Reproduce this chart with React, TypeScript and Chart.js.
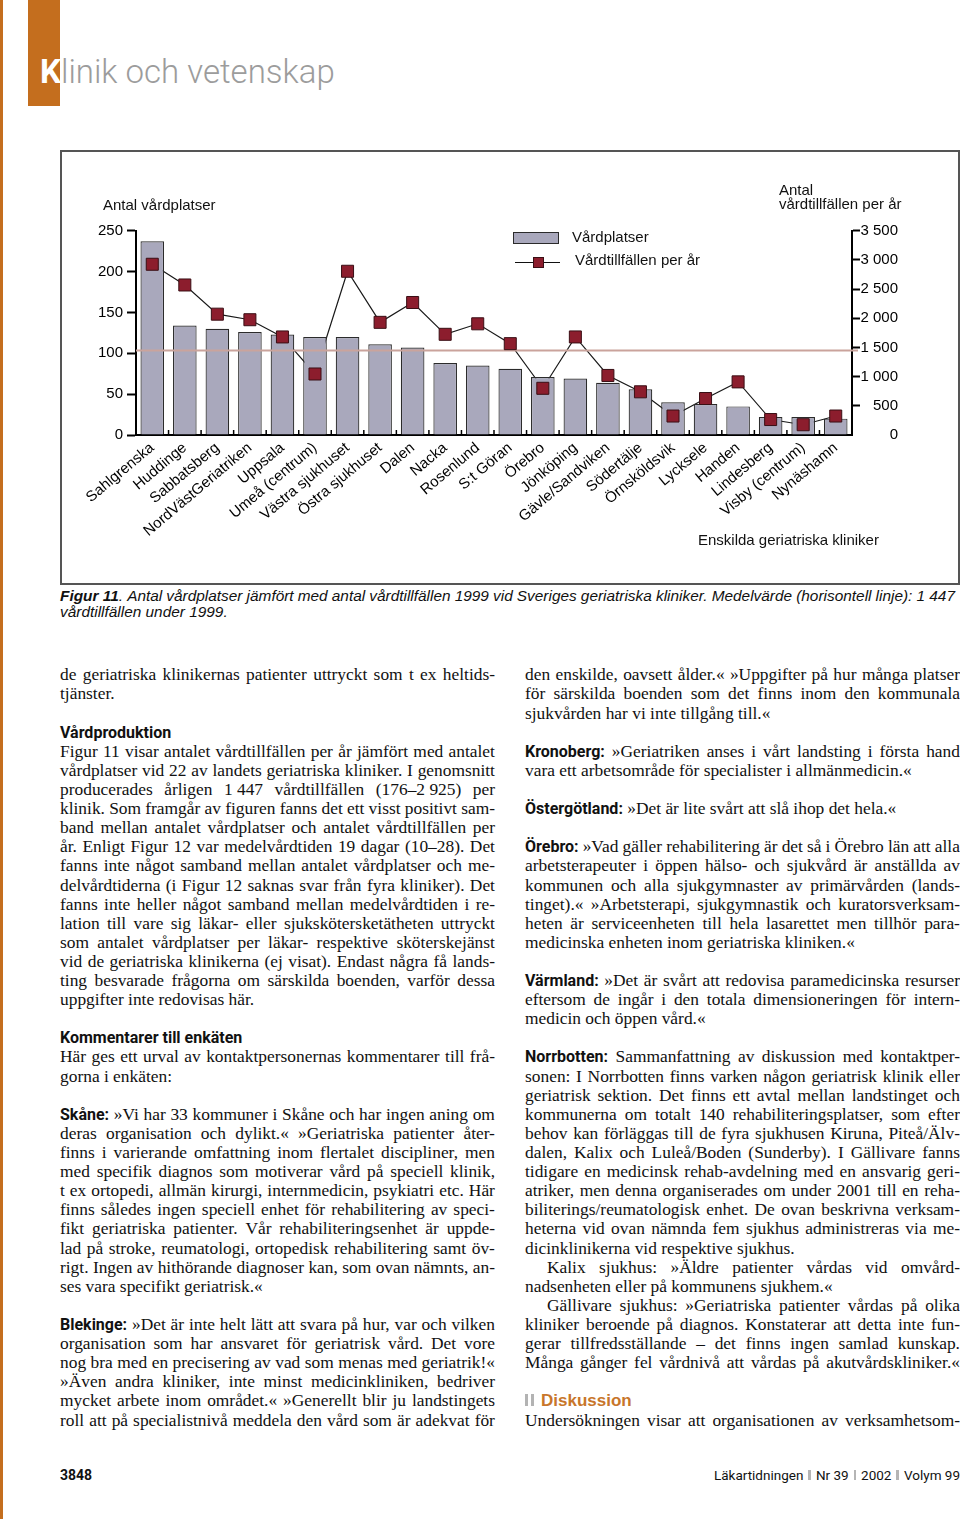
import React, { useEffect, useRef } from 'react';
import { Chart, registerables } from 'chart.js';

Chart.register(...registerables);

// ---------- chart data ----------
const clinics = [
  'Sahlgrenska', 'Huddinge', 'Sabbatsberg', 'NordVästGeriatriken', 'Uppsala',
  'Umeå (centrum)', 'Västra sjukhuset', 'Östra sjukhuset', 'Dalen', 'Nacka',
  'Rosenlund', 'S:t Göran', 'Örebro', 'Jönköping', 'Gävle/Sandviken',
  'Södertälje', 'Örnsköldsvik', 'Lycksele', 'Handen', 'Lindesberg',
  'Visby (centrum)', 'Nynäshamn',
];
const bedCounts = [237, 134, 130, 126, 123, 120, 120, 111, 107, 88, 85, 81, 71, 69, 64, 56, 40, 38, 35, 22, 22, 20];
const visitsPerYear = [2925, 2570, 2070, 1975, 1680, 1045, 2805, 1930, 2270, 1725, 1905, 1565, 800, 1680, 1020, 740, 325, 625, 910, 265, 176, 325];
const meanVisits = 1447;
const bedAxisMax = 250;
const bedAxisStep = 50;
const visitAxisMax = 3500;
const visitAxisStep = 500;

const SANS = "'Liberation Sans', Arial, sans-serif";
const NARROW = "Roboto, 'Liberation Sans', sans-serif";
const SERIF = "'Liberation Serif', 'Times New Roman', serif";

const BAR_FILL = '#a9a8bc';
const BAR_EDGE = '#2b2b2b';
const MARK_FILL = '#8c1d2d';
const MARK_EDGE = '#3a0f15';
const MEAN_COLOR = '#caa39c';
const ORANGE = '#c46e1e';

const fmtThousands = (v: number) =>
  v >= 1000 ? `${Math.floor(v / 1000)} ${String(v % 1000).padStart(3, '0')}` : String(v);

const overlayPlugin = {
  id: 'overlayPlugin',
  afterDatasetDraw(chart: any, args: any) {
    if (args.index !== 1) return;
    const { ctx, chartArea, scales } = chart;
    const y = scales.y1.getPixelForValue(meanVisits);
    ctx.save();
    ctx.strokeStyle = MEAN_COLOR;
    ctx.lineWidth = 2;
    ctx.beginPath();
    ctx.moveTo(chartArea.left, y);
    ctx.lineTo(chartArea.right + 6, y);
    ctx.stroke();
    ctx.restore();
  },
  afterDraw(chart: any) {
    const { ctx, chartArea, scales } = chart;
    const xs = scales.x;
    const n = clinics.length;
    const step = (xs.getPixelForValue(n - 1) - xs.getPixelForValue(0)) / (n - 1);
    ctx.save();
    ctx.strokeStyle = '#000';
    ctx.lineWidth = 1.5;
    for (let i = 1; i <= n; i++) {
      const px = xs.getPixelForValue(i - 1) + step / 2;
      ctx.beginPath();
      ctx.moveTo(px, chartArea.bottom);
      ctx.lineTo(px, chartArea.bottom - 5);
      ctx.stroke();
    }
    ctx.restore();
  },
};

function FigureChart() {
  const ref = useRef<HTMLCanvasElement | null>(null);
  useEffect(() => {
    if (!ref.current) return;
    const tickFont = { family: SANS, size: 15 };
    const chart = new Chart(ref.current, {
      type: 'bar',
      data: {
        labels: clinics,
        datasets: [
          {
            type: 'line',
            label: 'linje',
            data: visitsPerYear,
            yAxisID: 'y1',
            borderColor: '#1a1a1a',
            borderWidth: 1.2,
            pointRadius: 0,
            tension: 0,
            order: 3,
          } as any,
          {
            type: 'bar',
            label: 'Vårdplatser',
            data: bedCounts,
            yAxisID: 'y',
            backgroundColor: BAR_FILL,
            borderColor: BAR_EDGE,
            borderWidth: 1.2,
            barPercentage: 0.725,
            categoryPercentage: 1,
            order: 2,
          },
          {
            type: 'line',
            label: 'Vårdtillfällen per år',
            data: visitsPerYear,
            yAxisID: 'y1',
            showLine: false,
            pointStyle: 'rect',
            pointRadius: 8.5,
            pointBackgroundColor: MARK_FILL,
            pointBorderColor: MARK_EDGE,
            pointBorderWidth: 1,
            order: 1,
          } as any,
        ],
      },
      options: {
        animation: false,
        responsive: false,
        maintainAspectRatio: false,
        layout: { padding: { top: 80.7, left: 0, right: 60, bottom: 0 } },
        plugins: { legend: { display: false }, tooltip: { enabled: false } },
        scales: {
          x: {
            type: 'category',
            offset: true,
            grid: { display: false, drawTicks: false },
            border: { display: true, color: '#000', width: 2 },
            ticks: {
              autoSkip: false,
              minRotation: 40,
              maxRotation: 40,
              padding: 4,
              color: '#000',
              font: tickFont,
            },
            afterFit: (s: any) => { s.height = 149; },
          },
          y: {
            position: 'left',
            min: 0,
            max: bedAxisMax,
            ticks: { stepSize: bedAxisStep, padding: 4, color: '#000', font: tickFont },
            grid: { drawOnChartArea: false, tickLength: 9, tickWidth: 2, tickColor: '#000' },
            border: { display: true, color: '#000', width: 2 },
            afterFit: (s: any) => { s.width = 76; },
          },
          y1: {
            position: 'right',
            min: 0,
            max: visitAxisMax,
            ticks: {
              stepSize: visitAxisStep,
              padding: 6,
              crossAlign: 'far',
              color: '#000',
              font: tickFont,
              callback: (v: any) => fmtThousands(Number(v)),
            },
            grid: {
              drawOnChartArea: false,
              tickLength: 8,
              tickWidth: 2,
              tickColor: (c: any) => (c.tick && c.tick.value === 0 ? 'rgba(0,0,0,0)' : '#000'),
            },
            border: { display: true, color: '#000', width: 2 },
            afterFit: (s: any) => { s.width = 46; },
          },
        },
      } as any,
      plugins: [overlayPlugin],
    });
    return () => chart.destroy();
  }, []);
  return (
    <canvas
      ref={ref}
      width={898}
      height={434}
      style={{ position: 'absolute', left: 60, top: 150, width: 898, height: 434 }}
    />
  );
}

// ---------- page text ----------
const leftColumn = [
  'J de geriatriska klinikernas patienter uttryckt som t ex heltids-',
  'L tjänster.',
  '',
  'H Vårdproduktion',
  'J Figur 11 visar antalet vårdtillfällen per år jämfört med antalet',
  'J vårdplatser vid 22 av landets geriatriska kliniker. I genomsnitt',
  'J producerades årligen 1\u00a0447 vårdtillfällen (176–2\u00a0925) per',
  'J klinik. Som framgår av figuren fanns det ett visst positivt sam-',
  'J band mellan antalet vårdplatser och antalet vårdtillfällen per',
  'J år. Enligt Figur 12 var medelvårdtiden 19 dagar (10–28). Det',
  'J fanns inte något samband mellan antalet vårdplatser och me-',
  'J delvårdtiderna (i Figur 12 saknas svar från fyra kliniker). Det',
  'J fanns inte heller något samband mellan medelvårdtiden i re-',
  'J lation till vare sig läkar- eller sjukskötersketätheten uttryckt',
  'J som antalet vårdplatser per läkar- respektive sköterskejänst',
  'J vid de geriatriska klinikerna (ej visat). Endast några få lands-',
  'J ting besvarade frågorna om särskilda boenden, varför dessa',
  'L uppgifter inte redovisas här.',
  '',
  'H Kommentarer till enkäten',
  'J Här ges ett urval av kontaktpersonernas kommentarer till frå-',
  'L gorna i enkäten:',
  '',
  'J **Skåne:** »Vi har 33 kommuner i Skåne och har ingen aning om',
  'J deras organisation och dylikt.« »Geriatriska patienter åter-',
  'J finns i varierande omfattning inom flertalet discipliner, men',
  'J med specifik diagnos som motiverar vård på speciell klinik,',
  'J t ex ortopedi, allmän kirurgi, internmedicin, psykiatri etc. Här',
  'J finns således ingen speciell enhet för rehabilitering av speci-',
  'J fikt geriatriska patienter. Vår rehabiliteringsenhet är uppde-',
  'J lad på stroke, reumatologi, ortopedisk rehabilitering samt öv-',
  'J rigt. Ingen av hithörande diagnoser kan, som ovan nämnts, an-',
  'L ses vara specifikt geriatrisk.«',
  '',
  'J **Blekinge:** »Det är inte helt lätt att svara på hur, var och vilken',
  'J organisation som har ansvaret för geriatrisk vård. Det vore',
  'J nog bra med en precisering av vad som menas med geriatrik!«',
  'J »Även andra kliniker, inte minst medicinkliniken, bedriver',
  'J mycket arbete inom området.« »Generellt blir ju landstingets',
  'J roll att på specialistnivå meddela den vård som är adekvat för',
];

const rightColumn = [
  'J den enskilde, oavsett ålder.« »Uppgifter på hur många platser',
  'J för särskilda boenden som det finns inom den kommunala',
  'L sjukvården har vi inte tillgång till.«',
  '',
  'J **Kronoberg:** »Geriatriken anses i vårt landsting i första hand',
  'L vara ett arbetsområde för specialister i allmänmedicin.«',
  '',
  'L **Östergötland:** »Det är lite svårt att slå ihop det hela.«',
  '',
  'J **Örebro:** »Vad gäller rehabilitering är det så i Örebro län att alla',
  'J arbetsterapeuter i öppen hälso- och sjukvård är anställda av',
  'J kommunen och alla sjukgymnaster av primärvården (lands-',
  'J tinget).« »Arbetsterapi, sjukgymnastik och kuratorsverksam-',
  'J heten är serviceenheten till hela lasarettet men tillhör para-',
  'L medicinska enheten inom geriatriska kliniken.«',
  '',
  'J **Värmland:** »Det är svårt att redovisa paramedicinska resurser',
  'J eftersom de ingår i den totala dimensioneringen för intern-',
  'L medicin och öppen vård.«',
  '',
  'J **Norrbotten:** Sammanfattning av diskussion med kontaktper-',
  'J sonen: I Norrbotten finns varken någon geriatrisk klinik eller',
  'J geriatrisk sektion. Det finns ett avtal mellan landstinget och',
  'J kommunerna om totalt 140 rehabiliteringsplatser, som efter',
  'J behov kan förläggas till de fyra sjukhusen Kiruna, Piteå/Älv-',
  'J dalen, Kalix och Luleå/Boden (Sunderby). I Gällivare fanns',
  'J tidigare en medicinsk rehab-avdelning med en ansvarig geri-',
  'J atriker, men denna organiserades om under 2001 till en reha-',
  'J biliterings/reumatologisk enhet. De ovan beskrivna verksam-',
  'J heterna vid ovan nämnda fem sjukhus administreras via me-',
  'L dicinklinikerna vid respektive sjukhus.',
  'JI Kalix sjukhus: »Äldre patienter vårdas vid omvård-',
  'L nadsenheten eller på kommunens sjukhem.«',
  'JI Gällivare sjukhus: »Geriatriska patienter vårdas på olika',
  'J kliniker beroende på diagnos. Konstaterar att detta inte fun-',
  'J gerar tillfredsställande – det finns ingen samlad kunskap.',
  'J Många gånger fel vårdnivå att vårdas på akutvårdskliniker.«',
  '',
  'D Diskussion',
  'J Undersökningen visar att organisationen av verksamhetsom-',
];

const LH = 19.12;
const BODY_SIZE = 17.4;

function TextLine({ s }: { s: string }) {
  const base: React.CSSProperties = { height: LH, lineHeight: `${LH}px`, whiteSpace: 'nowrap' };
  if (!s) return <div style={base} />;
  const sp = s.indexOf(' ');
  const tag = s.slice(0, sp);
  const body = s.slice(sp + 1);
  if (tag === 'H') {
    return <div style={{ ...base, font: `bold 16px ${NARROW}`, color: '#111' }}>{body}</div>;
  }
  if (tag === 'D') {
    return (
      <div style={{ ...base, font: `bold 17px ${SANS}`, color: '#c8762a' }}>
        <span style={{ display: 'inline-block', width: 3, height: 12, background: '#b3b3b3', marginRight: 3 }} />
        <span style={{ display: 'inline-block', width: 3, height: 12, background: '#b3b3b3', marginRight: 7 }} />
        {body}
      </div>
    );
  }
  let lead: string | null = null;
  let rest = body;
  const m = body.match(/^\*\*(.+?)\*\* (.*)$/);
  if (m) { lead = m[1]; rest = m[2]; }
  const indent = tag.includes('I') ? 22 : 0;
  const leadEl = lead ? <span style={{ font: `bold 16px ${NARROW}` }}>{lead}</span> : null;
  if (tag.startsWith('J')) {
    return (
      <div style={{ ...base, display: 'flex', justifyContent: 'space-between', alignItems: 'baseline', paddingLeft: indent }}>
        {leadEl}
        {rest.split(' ').map((w, i) => <span key={i}>{w}</span>)}
      </div>
    );
  }
  return (
    <div style={{ ...base, paddingLeft: indent }}>
      {leadEl}{lead ? ' ' : ''}{rest}
    </div>
  );
}

function Column({ lines, left }: { lines: string[]; left: number }) {
  return (
    <div style={{ position: 'absolute', left, top: 665.3, width: 435, font: `${BODY_SIZE}px ${SERIF}`, color: '#111' }}>
      {lines.map((s, i) => <TextLine key={i} s={s} />)}
    </div>
  );
}

const label15: React.CSSProperties = {
  position: 'absolute', font: `15px ${SANS}`, lineHeight: '15px', color: '#111', whiteSpace: 'nowrap',
};

const captionWords = 'Antal vårdplatser jämfört med antal vårdtillfällen 1999 vid Sveriges geriatriska kliniker. Medelvärde (horisontell linje): 1\u00a0447'.split(' ');

const sep = <span style={{ display: 'inline-block', width: 2.5, height: 10, background: '#b5b5b5', margin: '0 5px' }} />;

export default function App() {
  useEffect(() => {
    document.body.style.margin = '0';
  }, []);
  return (
    <div style={{ position: 'absolute', left: 0, top: 0, width: 960, height: 1519, overflow: 'hidden', background: '#fff' }}>
      {/* page edge strip + header */}
      <div style={{ position: 'absolute', left: 0, top: 0, width: 3, height: 1519, background: ORANGE }} />
      <div style={{ position: 'absolute', left: 28, top: 0, width: 32, height: 106, background: ORANGE }} />
      <div style={{ position: 'absolute', left: 40, top: 54.5, font: `300 33px ${NARROW}`, lineHeight: '34px', letterSpacing: 0, color: '#9c9c9c', whiteSpace: 'nowrap' }}>
        <span style={{ color: '#fff', fontWeight: 'bold' }}>K</span>linik och vetenskap
      </div>

      {/* figure box */}
      <div style={{ position: 'absolute', left: 60, top: 150, width: 900, height: 435, boxSizing: 'border-box', border: '2px solid #555' }} />
      <FigureChart />
      <div style={{ ...label15, left: 103, top: 197.3 }}>Antal vårdplatser</div>
      <div style={{ ...label15, left: 779, top: 182.3 }}>Antal</div>
      <div style={{ ...label15, left: 779, top: 196.3 }}>vårdtillfällen per år</div>
      <div style={{ position: 'absolute', left: 513, top: 232, width: 46, height: 12, boxSizing: 'border-box', background: BAR_FILL, border: `1px solid ${BAR_EDGE}` }} />
      <div style={{ ...label15, left: 572, top: 229 }}>Vårdplatser</div>
      <div style={{ position: 'absolute', left: 515, top: 261.5, width: 45, height: 1, background: '#111' }} />
      <div style={{ position: 'absolute', left: 533, top: 257, width: 11, height: 11, boxSizing: 'border-box', background: MARK_FILL, border: `1px solid ${MARK_EDGE}` }} />
      <div style={{ ...label15, left: 575, top: 252.3 }}>Vårdtillfällen per år</div>
      <div style={{ ...label15, left: 698, top: 532.3 }}>Enskilda geriatriska kliniker</div>

      {/* caption */}
      <div style={{ position: 'absolute', left: 60, top: 587.7, width: 895, height: 16, display: 'flex', justifyContent: 'space-between', alignItems: 'baseline', font: `italic 15.4px ${SANS}`, lineHeight: '16px', color: '#111', whiteSpace: 'nowrap' }}>
        <span><b>Figur 11</b>.</span>
        {captionWords.map((w, i) => <span key={i}>{w}</span>)}
      </div>
      <div style={{ position: 'absolute', left: 60, top: 603.5, font: `italic 15.4px ${SANS}`, lineHeight: '16px', color: '#111', whiteSpace: 'nowrap' }}>
        vårdtillfällen under 1999.
      </div>

      {/* body text */}
      <Column lines={leftColumn} left={60} />
      <Column lines={rightColumn} left={525} />

      {/* footer */}
      <div style={{ position: 'absolute', left: 60, top: 1468, font: `bold 14px ${NARROW}`, lineHeight: '15px', color: '#111' }}>3848</div>
      <div style={{ position: 'absolute', right: 0, top: 1468, font: `13.5px ${NARROW}`, lineHeight: '15px', color: '#111', whiteSpace: 'nowrap' }}>
        Läkartidningen{sep}Nr 39{sep}2002{sep}Volym 99
      </div>
    </div>
  );
}
